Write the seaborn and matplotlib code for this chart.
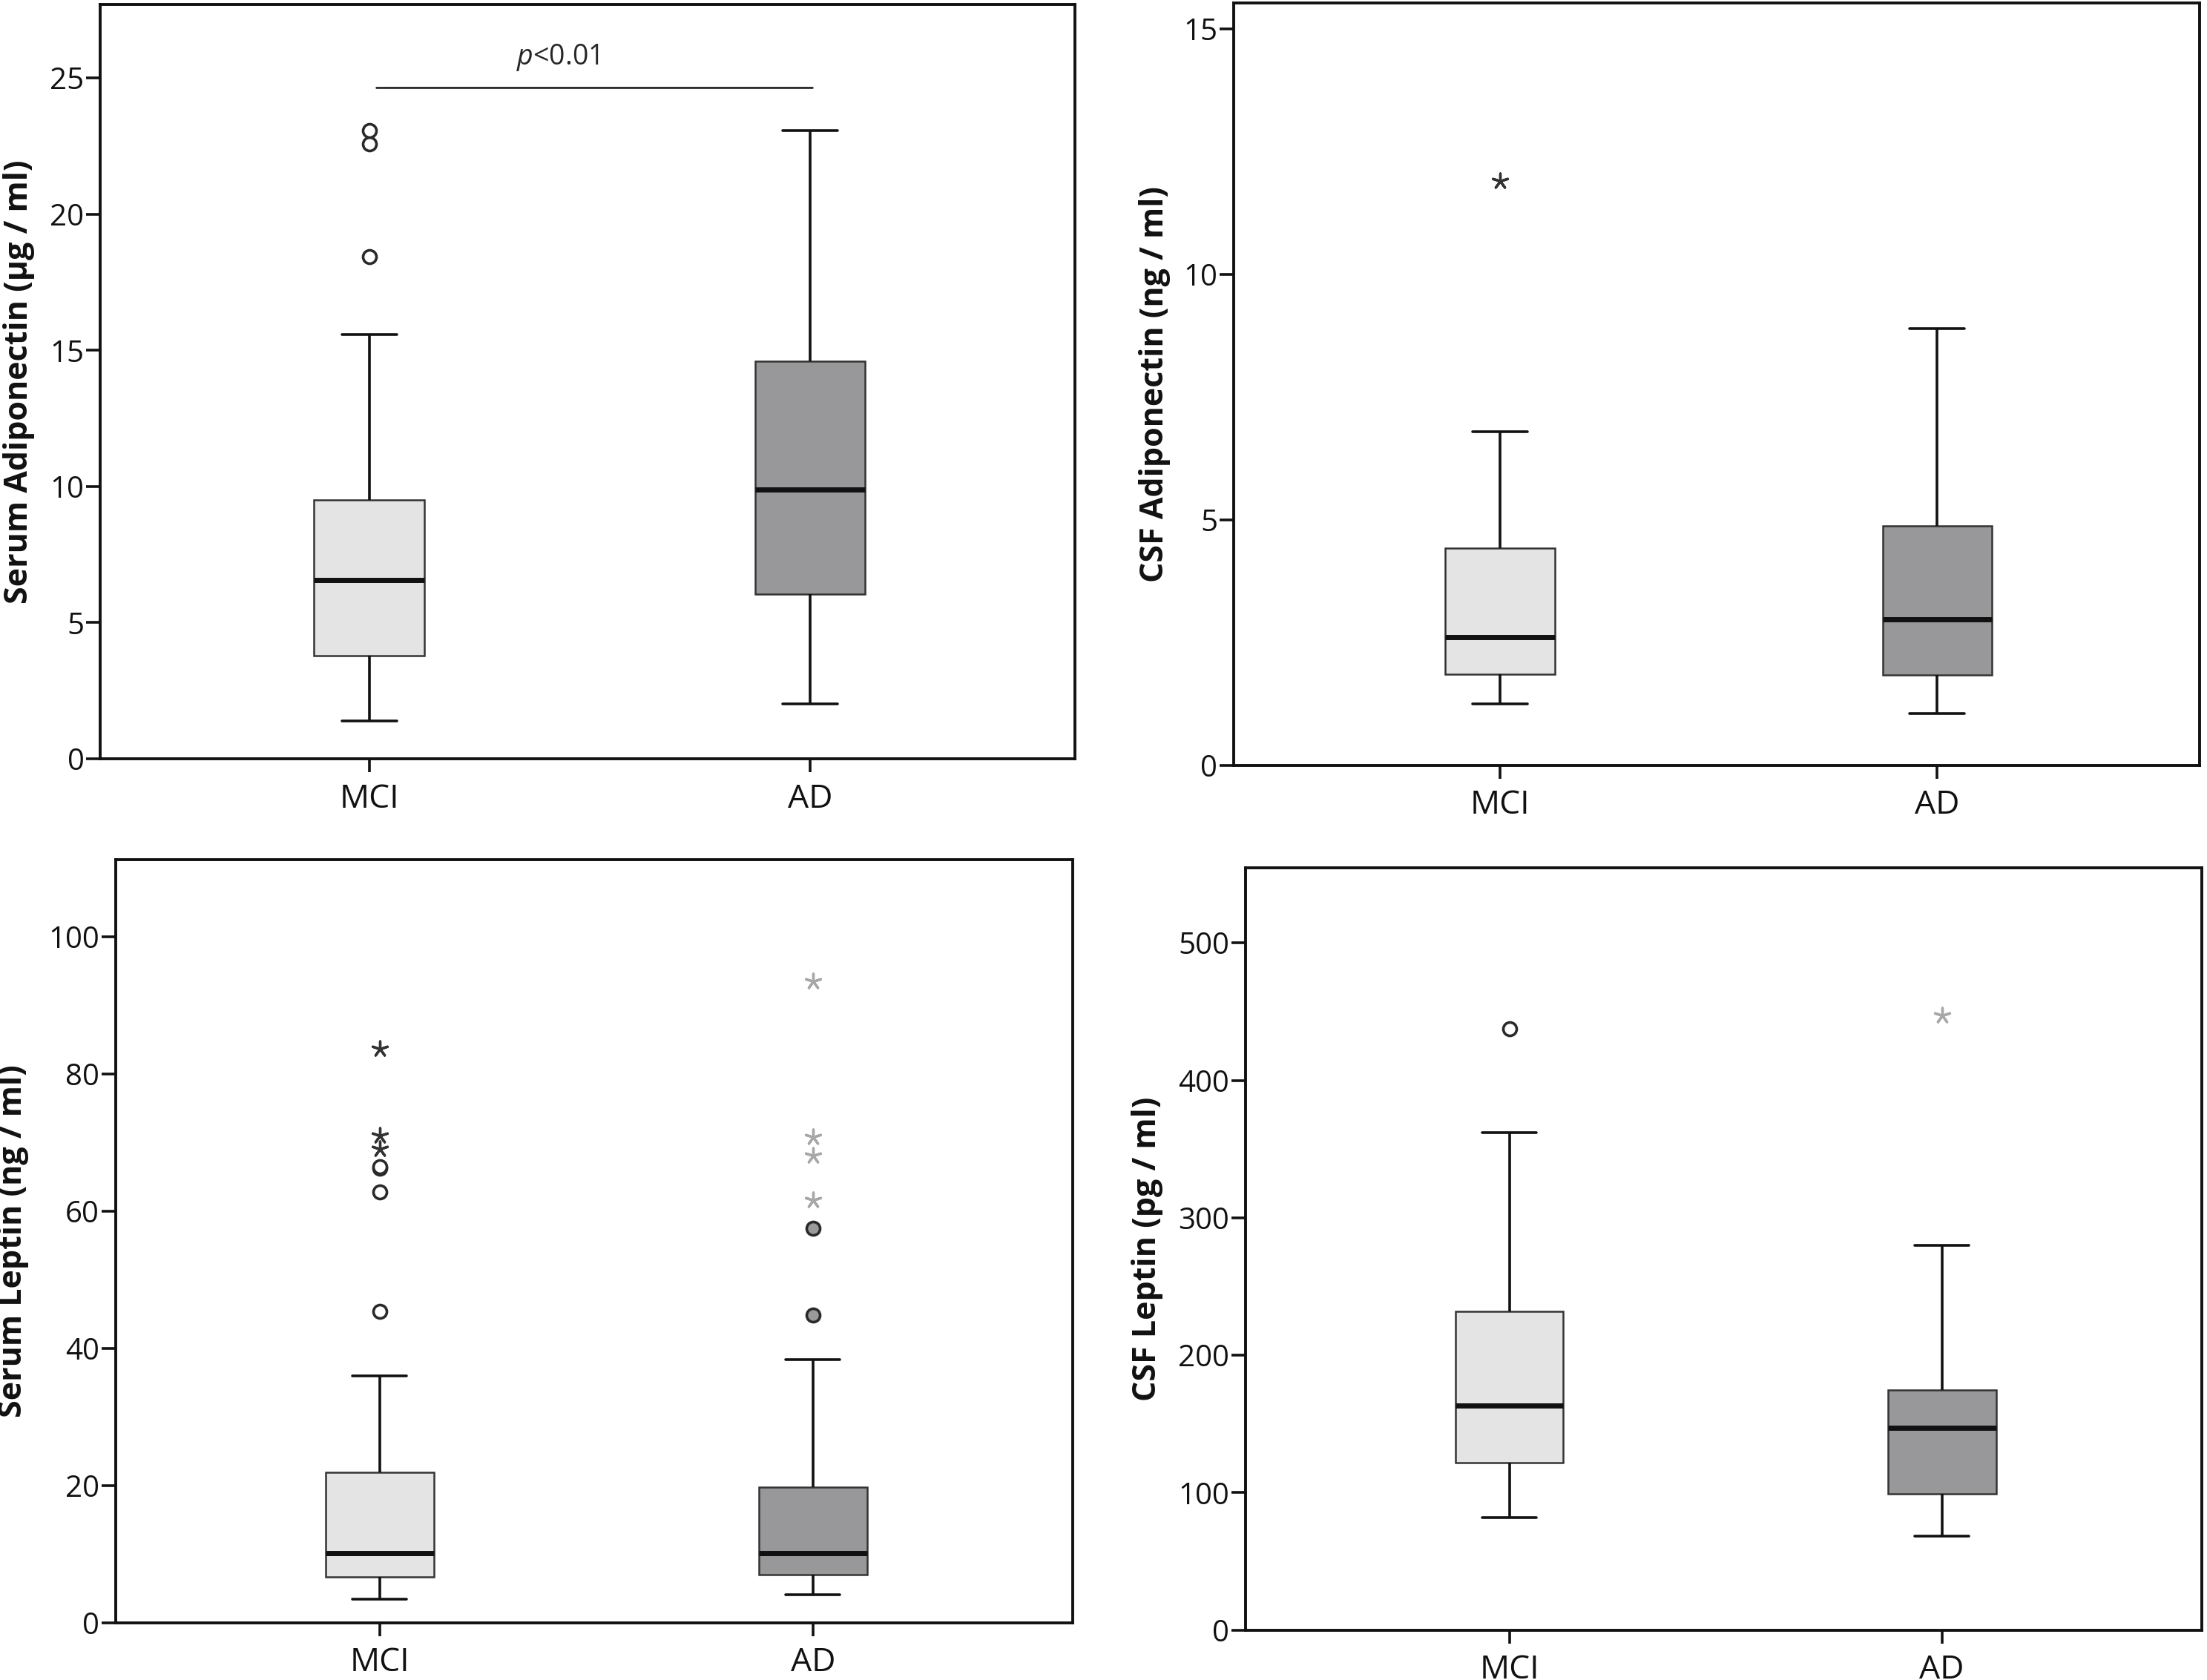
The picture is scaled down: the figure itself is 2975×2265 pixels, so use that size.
import pandas as pd
import matplotlib.pyplot as plt
import seaborn as sns

grupos = ['MCI', 'AD']

# resumo de cinco numeros: bigode inf, Q1, mediana, Q3, bigode sup
serum_adipo_mci = [1.4, 3.78, 6.57, 9.52, 15.58]
serum_adipo_ad = [2.02, 6.06, 9.89, 14.6, 23.08]
csf_adipo_mci = [1.26, 1.86, 2.61, 4.42, 6.80]
csf_adipo_ad = [1.06, 1.84, 2.98, 4.88, 8.89]
serum_leptin_mci = [3.5, 6.7, 10.2, 21.9, 36.0]
serum_leptin_ad = [4.1, 7.0, 10.2, 19.8, 38.4]
csf_leptin_mci = [81.8, 121.7, 163.6, 232.0, 362.0]
csf_leptin_ad = [68.5, 99.2, 147.0, 174.8, 280.0]

# outliers (o) e extremos (*)
serum_adipo_mci_out = [18.43, 22.57, 23.08]
csf_adipo_mci_ext = [11.9]
serum_leptin_mci_out = [45.4, 62.8, 66.2, 66.5]
serum_leptin_mci_ext = [69.1, 71.0, 83.6]
serum_leptin_ad_out = [44.8, 57.5]
serum_leptin_ad_ext = [61.6, 68.1, 70.8, 93.5]
csf_leptin_mci_out = [437.6]
csf_leptin_ad_ext = [447.0]

cores = {'MCI': '#e4e4e4', 'AD': '#97989c'}
estilo_out = {'MCI': ('white', '#2a2a2a'), 'AD': ('#9a9a9a', '#2a2a2a')}
cor_ext = {'MCI': '#333333', 'AD': '#a8a8a8'}

fonte = ['Open Sans', 'DejaVu Sans']

sns.set_theme(style="ticks")
plt.rcParams['font.family'] = fonte
plt.rcParams['axes.linewidth'] = 1.4
plt.rcParams['mathtext.fontset'] = 'custom'
plt.rcParams['mathtext.it'] = 'Open Sans:italic'
plt.rcParams['mathtext.rm'] = 'Open Sans'

fig = plt.figure(figsize=(14.875, 11.325), dpi=200)
posicoes = [
    [0.0454, 0.5483, 0.4416, 0.4491],
    [0.5589, 0.5444, 0.4376, 0.4540],
    [0.0523, 0.0340, 0.4338, 0.4543],
    [0.5643, 0.0297, 0.4332, 0.4538],
]


def pontos(ax, grupo, valores, tipo):
    if not valores:
        return
    if tipo == 'out':
        face, borda = estilo_out[grupo]
        sns.stripplot(x=[grupo] * len(valores), y=valores, order=grupos, jitter=False,
                      marker='o', size=6.5, color=face, edgecolor=borda, linewidth=1.3,
                      ax=ax, zorder=4)
    else:
        c = cor_ext[grupo]
        sns.stripplot(x=[grupo] * len(valores), y=valores, order=grupos, jitter=False,
                      marker=(5, 2, 0), size=7.5, color=c, edgecolor=c, linewidth=1.2,
                      ax=ax, zorder=4)


def painel(ax, mci, ad, ylabel, ylim, yticks, xlabpos, outs):
    df = pd.DataFrame({'Grupo': ['MCI'] * len(mci) + ['AD'] * len(ad),
                       'Valor': mci + ad})
    sns.boxplot(data=df, x='Grupo', y='Valor', order=grupos, hue='Grupo',
                palette=cores, legend=False, whis=(0, 100), width=0.25,
                linecolor='#333333', linewidth=0.9, ax=ax,
                medianprops={'color': '#111111', 'linewidth': 2.5},
                whiskerprops={'color': '#111111', 'linewidth': 1.3},
                capprops={'color': '#111111', 'linewidth': 1.3})
    for grupo, valores, tipo in outs:
        pontos(ax, grupo, valores, tipo)
    ax.set_xlim(-0.61, 1.60)
    ax.set_ylim(0, ylim)
    ax.set_yticks(yticks)
    ax.set_xlabel('')
    ax.set_ylabel(ylabel, family=fonte, fontweight='bold', fontsize=15.5,
                  color='#111111')
    ax.yaxis.set_label_coords(xlabpos, 0.5)
    ax.tick_params(axis='y', direction='out', length=6.8, width=1.3, pad=1,
                   labelsize=14.5, colors='#111111')
    ax.tick_params(axis='x', direction='out', length=6.5, width=1.3, pad=5,
                   labelsize=16, colors='#111111')
    for s in ax.spines.values():
        s.set_visible(True)
        s.set_color('#111111')


ax1 = fig.add_axes(posicoes[0])
painel(ax1, serum_adipo_mci, serum_adipo_ad, 'Serum Adiponectin (µg / ml)', 27.7,
       [0, 5, 10, 15, 20, 25], -0.067, [('MCI', serum_adipo_mci_out, 'out')])
ax1.plot([0.016, 1.004], [24.65, 24.65], color='#111111', linewidth=0.9)
ax1.text(0.427, 25.49, '$\\it{p}$<0.01', ha='center', va='baseline', fontsize=13.5)

ax2 = fig.add_axes(posicoes[1])
painel(ax2, csf_adipo_mci, csf_adipo_ad, 'CSF Adiponectin (ng / ml)', 15.53,
       [0, 5, 10, 15], -0.065, [('MCI', csf_adipo_mci_ext, 'ext')])

ax3 = fig.add_axes(posicoes[2])
painel(ax3, serum_leptin_mci, serum_leptin_ad, 'Serum Leptin (ng / ml)', 111.2,
       [0, 20, 40, 60, 80, 100], -0.09,
       [('MCI', serum_leptin_mci_out, 'out'), ('MCI', serum_leptin_mci_ext, 'ext'),
        ('AD', serum_leptin_ad_out, 'out'), ('AD', serum_leptin_ad_ext, 'ext')])

ax4 = fig.add_axes(posicoes[3])
painel(ax4, csf_leptin_mci, csf_leptin_ad, 'CSF Leptin (pg / ml)', 554.7,
       [0, 100, 200, 300, 400, 500], -0.086,
       [('MCI', csf_leptin_mci_out, 'out'), ('AD', csf_leptin_ad_ext, 'ext')])

fig.savefig('out.png', dpi=200, facecolor='white')
plt.close(fig)
